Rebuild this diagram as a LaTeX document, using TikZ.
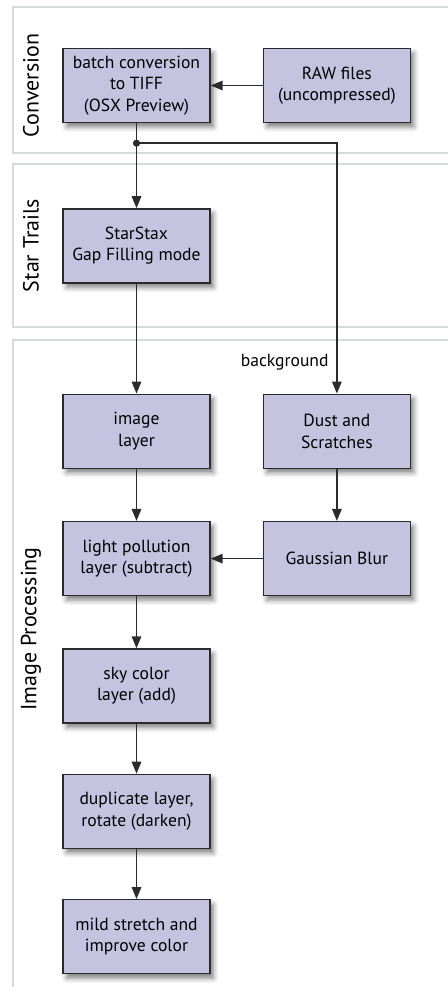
\documentclass[tikz,border=0pt]{standalone}
\usepackage[svgnames]{xcolor}
\usepackage{fontspec}
\setmainfont{PT Sans}
\usepackage{tikz}
\usetikzlibrary{positioning,arrows.meta,shadows.blur}

\definecolor{boxfill}{RGB}{198,195,225}
\definecolor{boxline}{RGB}{43,43,43}
\definecolor{laneline}{RGB}{214,218,218}

\begin{document}
\begin{tikzpicture}[x=0.02cm,y=-0.02cm,node distance=1.04cm and 1.04cm,
  box/.style={draw=boxline,line width=0.8pt,fill=boxfill,minimum width=2.94cm,minimum height=1.48cm,
    inner sep=0pt,align=center,font=\fontsize{10}{12.2}\selectfont,
    blur shadow={shadow xshift=0.07cm,shadow yshift=-0.09cm,shadow blur radius=0.1cm,shadow opacity=50}},
  lane/.style={draw=laneline,line width=0.85pt},
  lanelabel/.style={rotate=90,font=\fontsize{12.5}{14}\selectfont},
  flow/.style={->,line width=0.9pt,draw=boxline,>={Triangle[length=0.24cm,width=0.19cm]}}]
\useasboundingbox (0,0) rectangle (447,987);
% lanes
\draw[lane] (13,7) rectangle (470,153);
\draw[lane] (13,164) rectangle (470,327);
\draw[lane] (13,340) rectangle (470,1000);
% boxes
\node[box] (tiff) at (136.5,85.5) {batch conversion\\to TIFF\\(OSX Preview)};
\node[box,right=of tiff] (raw) {RAW files\\(uncompressed)};
\node[box,below=1.7cm of tiff] (stax) {StarStax\\Gap Filling mode};
\node[box,below=2.2cm of stax] (img) {image\\layer};
\node[box,right=of img] (dust) {Dust and\\Scratches};
\node[box,below=of img] (lp) {light pollution\\layer (subtract)};
\node[box,right=of lp] (blur) {Gaussian Blur};
\node[box,below=of lp] (sky) {sky color\\layer (add)};
\foreach \n/\t [remember=\n as \p (initially sky)] in {dup/{duplicate layer,\\rotate (darken)},mild/{mild stretch and\\improve color}}
  \node[box,below=1cm of \p] (\n) {\t};
% lane labels
\node[lanelabel] (lconv) at (31,85.5) {Conversion};
\node[lanelabel] (lstar) at (31,245.5) {Star Trails};
\node[lanelabel] (limg) at (31,629) {Image Processing};
% connectors
\coordinate[below=0.4cm of tiff.south] (j);
\draw[flow] (raw) -- (tiff);
\draw[flow] (tiff) -- (stax);
\draw[flow] (j) -| (dust);
\fill[boxline] (j) circle (3.6);
\node[above left=0.46cm and 0.16cm of dust.north,font=\fontsize{10}{12.2}\selectfont,inner sep=0pt] (bg) {background};
\foreach \s/\t in {stax/img,img/lp,lp/sky,sky/dup,dup/mild,dust/blur,blur/lp}
  \draw[flow] (\s) -- (\t);
\end{tikzpicture}
\end{document}
